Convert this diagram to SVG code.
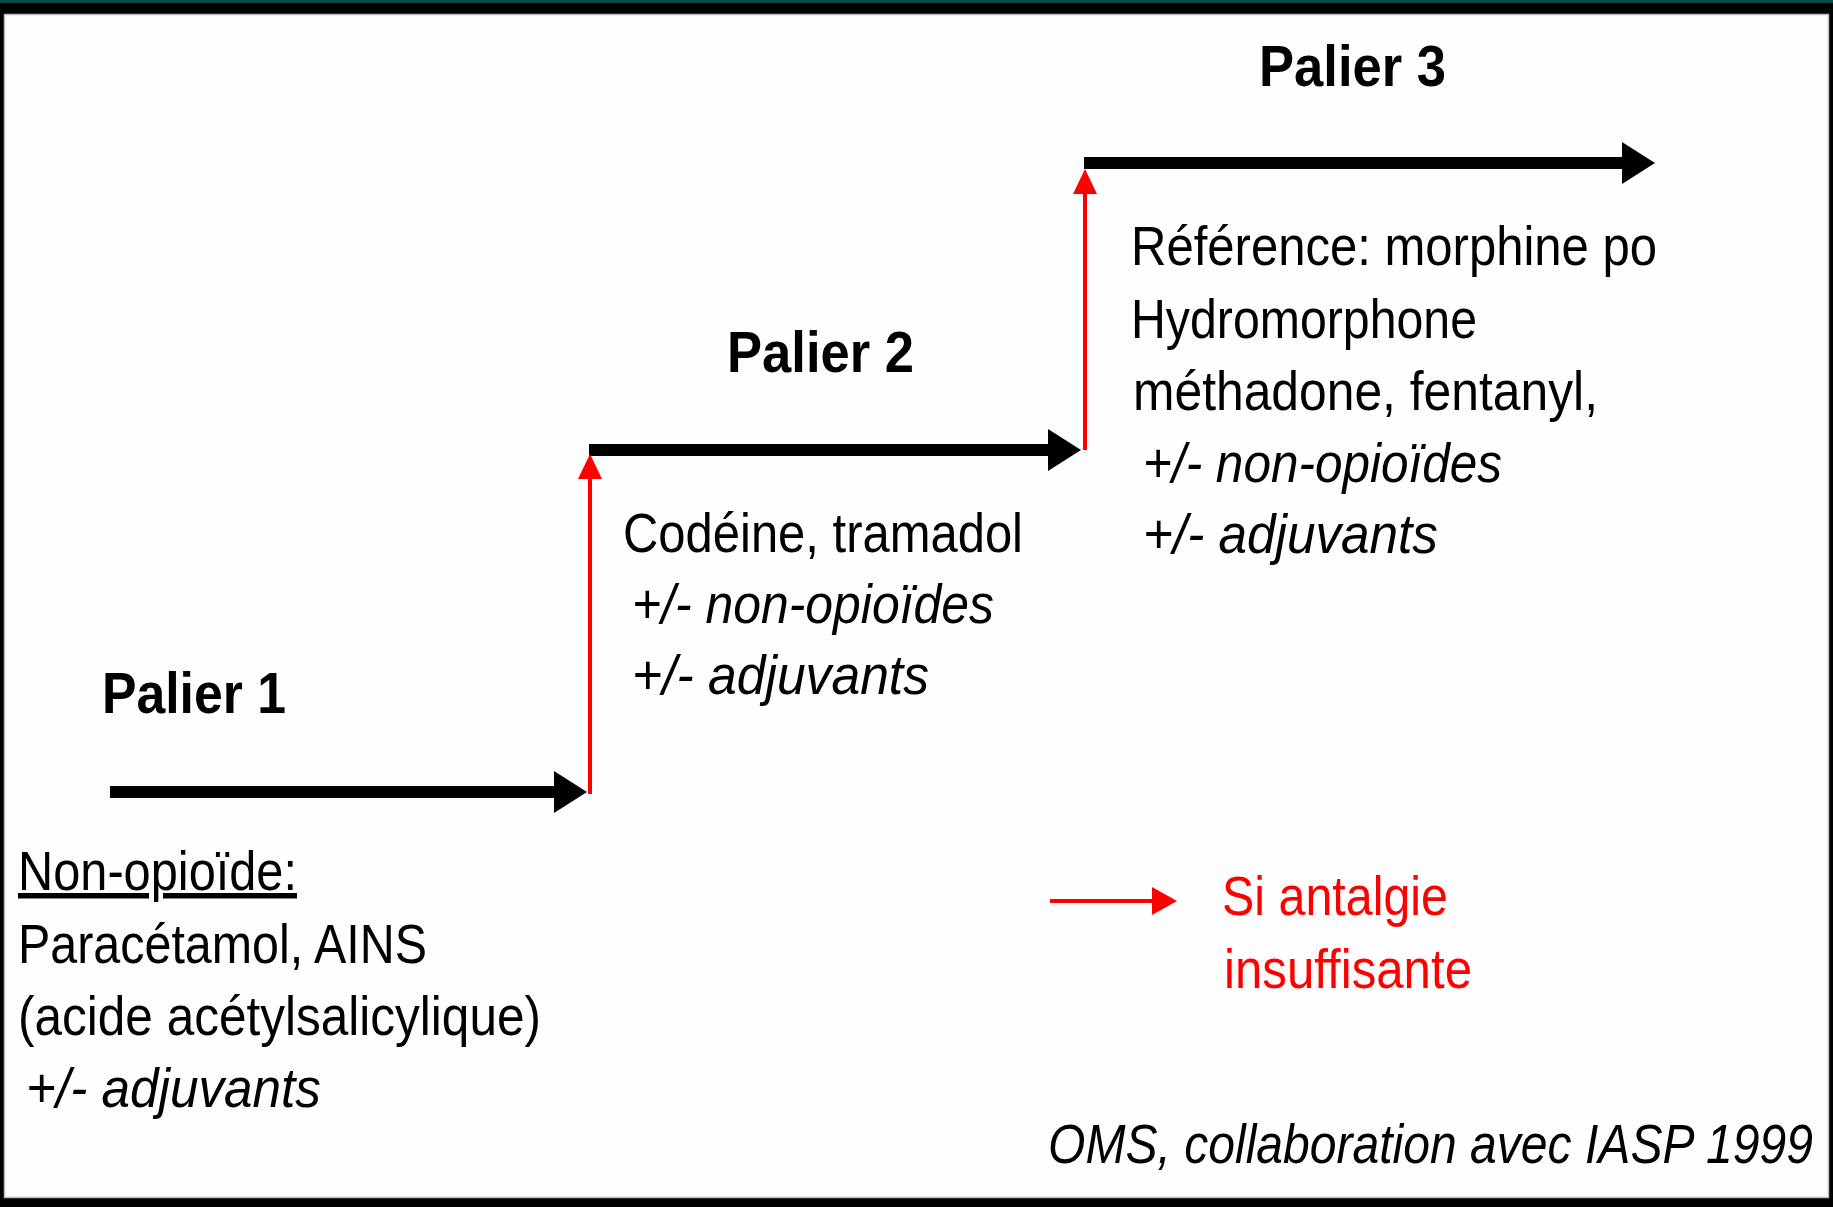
<svg xmlns="http://www.w3.org/2000/svg" width="1833" height="1207" viewBox="0 0 1833 1207">
<style>
.t{font-family:"Liberation Sans",Arial,sans-serif;font-size:55px;fill:#000}
.b{font-family:"Liberation Sans",Arial,sans-serif;font-size:57px;font-weight:bold;fill:#000}
.i{font-style:italic}
.red{fill:#ff0000}
.blk{stroke:#000;stroke-width:12;fill:none}
.rl{stroke:#ff0000;stroke-width:4;fill:none}
</style>
<defs>
<marker id="hb" markerUnits="userSpaceOnUse" viewBox="0 0 33 42" refX="1" refY="21" markerWidth="33" markerHeight="42" orient="auto"><path d="M0,0 L33,21 L0,42 Z" fill="#000"/></marker>
<marker id="hr" markerUnits="userSpaceOnUse" viewBox="0 0 25 24" refX="1" refY="12" markerWidth="25" markerHeight="24" orient="auto"><path d="M0,0 L25,12 L0,24 Z" fill="#ff0000"/></marker>
<marker id="hl" markerUnits="userSpaceOnUse" viewBox="0 0 25 28" refX="1" refY="14" markerWidth="25" markerHeight="28" orient="auto"><path d="M0,0 L25,14 L0,28 Z" fill="#ff0000"/></marker>
</defs>
<rect x="0" y="0" width="1833" height="1207" fill="#000"/>
<rect x="0" y="0" width="1833" height="3" fill="#0a4c4e"/>
<rect x="4.5" y="14.5" width="1824" height="1183" fill="#fefefe" stroke="#bdbdbd" stroke-width="1.5"/>

<g id="connectors">
<line class="blk" x1="110" y1="792" x2="555" y2="792" marker-end="url(#hb)"/>
<line class="blk" x1="589" y1="450" x2="1049" y2="450" marker-end="url(#hb)"/>
<line class="blk" x1="1084" y1="163" x2="1623" y2="163" marker-end="url(#hb)"/>
<line class="rl" x1="590" y1="794" x2="590" y2="478" marker-end="url(#hr)"/>
<line class="rl" x1="1085" y1="450" x2="1085" y2="193" marker-end="url(#hr)"/>
</g>

<g id="palier1">
<text class="b" x="102" y="713" textLength="184" lengthAdjust="spacingAndGlyphs">Palier 1</text>
<text class="t" x="18" y="890" textLength="279" lengthAdjust="spacingAndGlyphs" text-decoration="underline">Non-opioïde:</text>
<text class="t" x="18" y="963" textLength="409" lengthAdjust="spacingAndGlyphs">Paracétamol, AINS</text>
<text class="t" x="18" y="1035" textLength="523" lengthAdjust="spacingAndGlyphs">(acide acétylsalicylique)</text>
<text class="t i" x="26" y="1107" textLength="295" lengthAdjust="spacingAndGlyphs">+/- adjuvants</text>
</g>

<g id="palier2">
<text class="b" x="727" y="372" textLength="187" lengthAdjust="spacingAndGlyphs">Palier 2</text>
<text class="t" x="623" y="552" textLength="400" lengthAdjust="spacingAndGlyphs">Codéine, tramadol</text>
<text class="t i" x="632" y="623" textLength="362" lengthAdjust="spacingAndGlyphs">+/- non-opioïdes</text>
<text class="t i" x="632" y="694" textLength="297" lengthAdjust="spacingAndGlyphs">+/- adjuvants</text>
</g>

<g id="palier3">
<text class="b" x="1259" y="86" textLength="187" lengthAdjust="spacingAndGlyphs">Palier 3</text>
<text class="t" x="1131" y="265" textLength="526" lengthAdjust="spacingAndGlyphs">Référence: morphine po</text>
<text class="t" x="1131" y="338" textLength="346" lengthAdjust="spacingAndGlyphs">Hydromorphone</text>
<text class="t" x="1133" y="410" textLength="465" lengthAdjust="spacingAndGlyphs">méthadone, fentanyl,</text>
<text class="t i" x="1143" y="482" textLength="359" lengthAdjust="spacingAndGlyphs">+/- non-opioïdes</text>
<text class="t i" x="1143" y="553" textLength="295" lengthAdjust="spacingAndGlyphs">+/- adjuvants</text>
</g>

<g id="legend">
<line class="rl" x1="1050" y1="901" x2="1153" y2="901" marker-end="url(#hl)"/>
<text class="t red" x="1222" y="915" textLength="226" lengthAdjust="spacingAndGlyphs">Si antalgie</text>
<text class="t red" x="1224" y="988" textLength="248" lengthAdjust="spacingAndGlyphs">insuffisante</text>
</g>

<g id="citation">
<text class="t i" x="1048" y="1163" font-size="53" textLength="765" lengthAdjust="spacingAndGlyphs">OMS, collaboration avec IASP 1999</text>
</g>
</svg>
